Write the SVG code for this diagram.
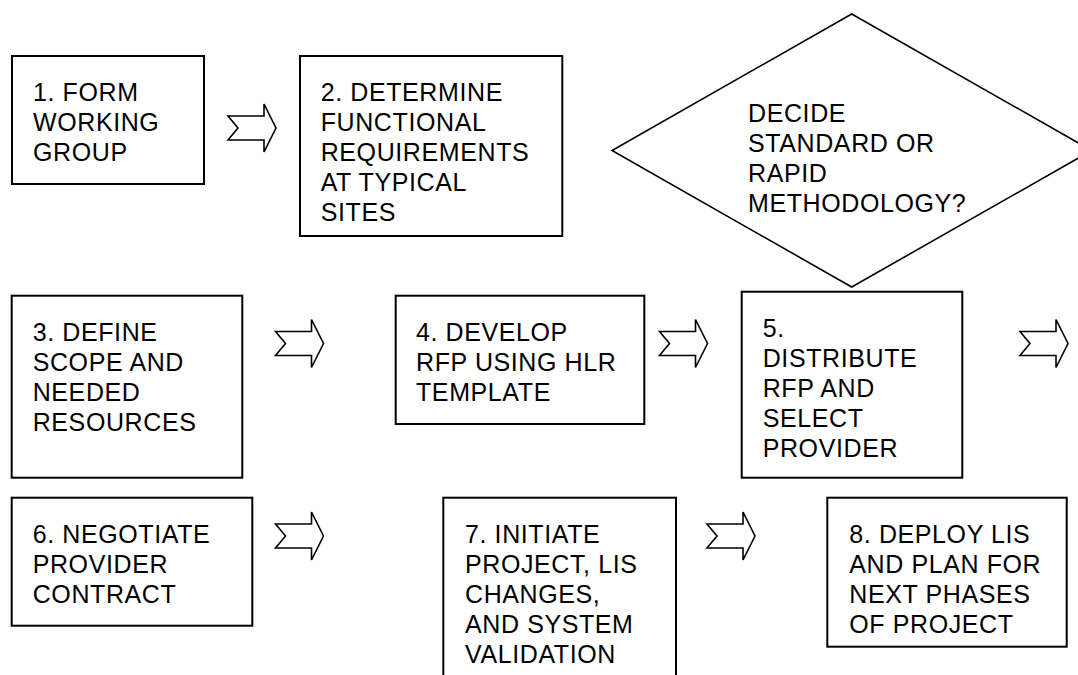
<svg xmlns="http://www.w3.org/2000/svg" width="1078" height="675" viewBox="0 0 1078 675">
<style>
.box{fill:#fff;stroke:#000;stroke-width:2}
.dia{fill:#fff;stroke:#000;stroke-width:1.6}
.arr{fill:#fff;stroke:#000;stroke-width:1.6;stroke-linejoin:miter}
text{font-family:"Liberation Sans",Arial,sans-serif;font-size:25px;letter-spacing:0.6px;fill:#000}
</style>
<defs>
<path id="arrow" class="arr" d="M0,-12 L36,-12 L36,-24 L48,0 L36,24 L36,12 L0,12 L10,0 Z"/>
</defs>
<rect width="1078" height="675" fill="#fff"/>
<g id="connectors">
<use href="#arrow" x="228" y="128"/>
<use href="#arrow" x="275.5" y="343.5"/>
<use href="#arrow" x="659.5" y="343.5"/>
<use href="#arrow" x="1020" y="343.5"/>
<use href="#arrow" x="275.5" y="536"/>
<use href="#arrow" x="707" y="536"/>
</g>
<g id="n1">
<rect class="box" x="12" y="56" width="192" height="128"/>
<text x="33" y="100.7">1. FORM</text>
<text x="33" y="130.7">WORKING</text>
<text x="33" y="160.7">GROUP</text>
</g>
<g id="n2">
<rect class="box" x="300" y="56" width="262.3" height="180"/>
<text x="320.7" y="100.7">2. DETERMINE</text>
<text x="320.7" y="130.7">FUNCTIONAL</text>
<text x="320.7" y="160.7">REQUIREMENTS</text>
<text x="320.7" y="190.7">AT TYPICAL</text>
<text x="320.7" y="220.7">SITES</text>
</g>
<g id="decision">
<polygon class="dia" points="851.7,14 1091.7,150.5 851.7,287 612,150.5"/>
<text x="748" y="121.7">DECIDE</text>
<text x="748" y="151.7">STANDARD OR</text>
<text x="748" y="181.7">RAPID</text>
<text x="748" y="211.7">METHODOLOGY?</text>
</g>
<g id="n3">
<rect class="box" x="11.7" y="295.7" width="230.6" height="182"/>
<text x="32.7" y="340.7">3. DEFINE</text>
<text x="32.7" y="370.7">SCOPE AND</text>
<text x="32.7" y="400.7">NEEDED</text>
<text x="32.7" y="430.7">RESOURCES</text>
</g>
<g id="n4">
<rect class="box" x="395.7" y="295.7" width="248.6" height="128.3"/>
<text x="416" y="340.7">4. DEVELOP</text>
<text x="416" y="370.7">RFP USING HLR</text>
<text x="416" y="400.7">TEMPLATE</text>
</g>
<g id="n5">
<rect class="box" x="741.7" y="291.7" width="220.6" height="186"/>
<text x="762.7" y="336.7">5.</text>
<text x="762.7" y="366.7">DISTRIBUTE</text>
<text x="762.7" y="396.7">RFP AND</text>
<text x="762.7" y="426.7">SELECT</text>
<text x="762.7" y="456.7">PROVIDER</text>
</g>
<g id="n6">
<rect class="box" x="11.7" y="497.7" width="240.6" height="128"/>
<text x="32.7" y="542.7">6. NEGOTIATE</text>
<text x="32.7" y="572.7">PROVIDER</text>
<text x="32.7" y="602.7">CONTRACT</text>
</g>
<g id="n7">
<rect class="box" x="443.3" y="497.7" width="232.7" height="190"/>
<text x="465" y="542.7">7. INITIATE</text>
<text x="465" y="572.7">PROJECT, LIS</text>
<text x="465" y="602.7">CHANGES,</text>
<text x="465" y="632.7">AND SYSTEM</text>
<text x="465" y="662.7">VALIDATION</text>
</g>
<g id="n8">
<rect class="box" x="827.3" y="497.7" width="239.4" height="149"/>
<text x="849.3" y="542.7">8. DEPLOY LIS</text>
<text x="849.3" y="572.7">AND PLAN FOR</text>
<text x="849.3" y="602.7">NEXT PHASES</text>
<text x="849.3" y="632.7">OF PROJECT</text>
</g>
</svg>
